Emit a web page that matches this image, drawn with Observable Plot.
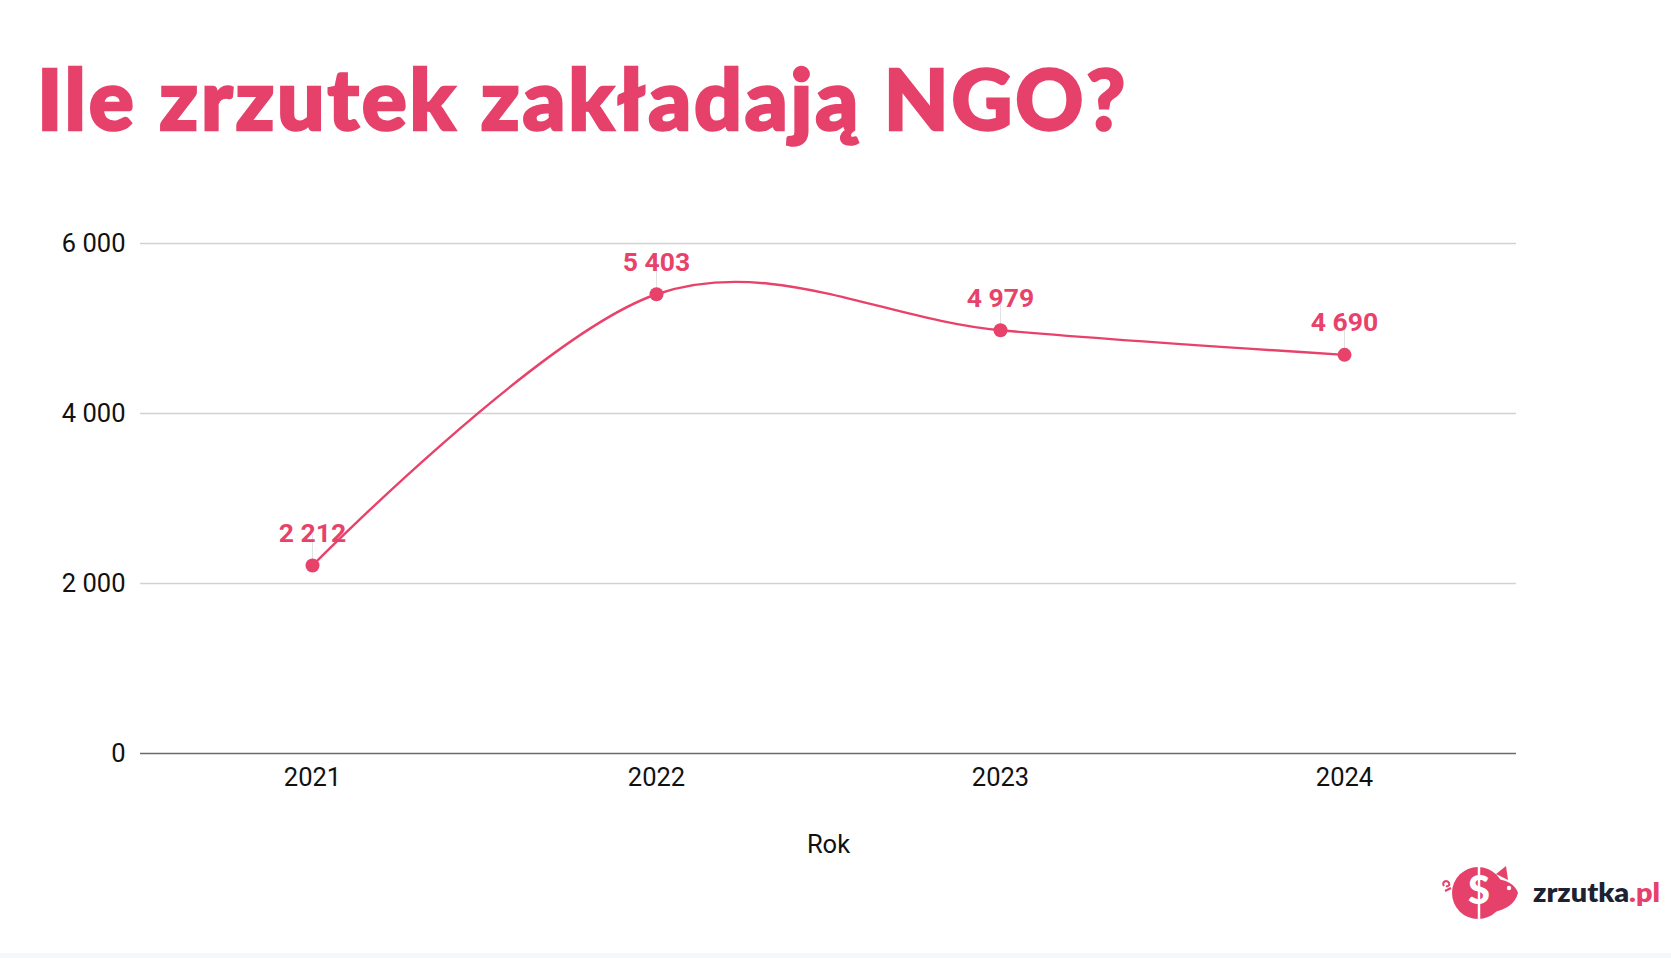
<!DOCTYPE html>
<html>
<head>
<meta charset="utf-8">
<script src="https://cdn.jsdelivr.net/npm/d3@7"></script>
<script src="https://cdn.jsdelivr.net/npm/@observablehq/plot@0.6"></script>
<style>
  html, body { margin: 0; padding: 0; background: #ffffff; }
  #wrap { position: relative; width: 1671px; height: 958px; overflow: hidden; background: #ffffff; }
  #title { position: absolute; left: 37px; top: 48px; font-family: Lato, "Noto Sans", sans-serif; font-weight: 900;
           font-size: 84px; line-height: 100px; color: #e6416a; white-space: nowrap; margin: 0;
           -webkit-text-stroke: 2.5px #e6416a; }
  #chart { position: absolute; left: 0; top: 170px; }
  #logo { position: absolute; left: 1436px; top: 860px; }
  #strip { position: absolute; left: 0; top: 953px; width: 1671px; height: 5px; background: #f6f7f9; }
</style>
</head>
<body>
<div id="wrap">
  <h1 id="title">Ile zrzutek zakładają NGO?</h1>
  <div id="chart"></div>
  <svg id="logo" width="230" height="70" viewBox="0 0 230 70">
    <path d="M8 26 c-3 -4 3 -7 5 -3 c1 2 -1 4 -3 3 M9 31 l6 -3" fill="none" stroke="#e6416a" stroke-width="2"/>
    <circle cx="42" cy="33" r="26" fill="#e6416a"/>
    <path d="M60 14 L70 6 L72 20 Z" fill="#e6416a"/>
    <path d="M55 18 Q78 20 82 33 Q78 48 58 52 Z" fill="#e6416a"/>
    <circle cx="73" cy="28" r="2.2" fill="#ffffff"/>
    <line x1="43" y1="7" x2="43" y2="60" stroke="#ffffff" stroke-width="2.5"/>
    <text x="43" y="44" text-anchor="middle" font-family="Lato, sans-serif" font-weight="900" font-size="40" fill="#ffffff">S</text>
    <text x="97" y="42" font-family="Lato, 'Noto Sans', sans-serif" font-weight="800" font-size="27" fill="#1d2230" textLength="127" lengthAdjust="spacingAndGlyphs">zrzutka<tspan fill="#e6416a">.pl</tspan></text>
  </svg>
  <div id="strip"></div>
</div>
<script>
// ---- data ----
const years = ["2021", "2022", "2023", "2024"];
const counts = [2212, 5403, 4979, 4690];
const yTicks = [0, 2000, 4000, 6000];
const xLabel = "Rok";

const data = years.map((y, i) => ({year: y, value: counts[i]}));
const fmt = v => d3.format(",")(v).replace(/,/g, " ");
const pink = "#e8426b";

const plot = Plot.plot({
  width: 1671,
  height: 788,
  marginLeft: 140,
  marginRight: 155,
  marginTop: 73,
  marginBottom: 205,
  style: {fontFamily: "Roboto, sans-serif", fontSize: "25.5px", color: "#111", background: "transparent"},
  x: {type: "point", domain: years, padding: 0.5, label: null},
  y: {domain: [0, 6000], label: null},
  marks: [
    Plot.gridY(yTicks.filter(d => d > 0), {stroke: "#d2d2d2", strokeOpacity: 1, strokeWidth: 1.3}),
    Plot.ruleY([0], {stroke: "#6a6a6a", strokeWidth: 1.5}),
    Plot.axisY({ticks: yTicks, tickSize: 0, tickPadding: 15, tickFormat: fmt, fontSize: 25.5, fill: "#111", label: null}),
    Plot.axisX({tickSize: 0, tickPadding: 14, fontSize: 25.5, fill: "#111", label: null}),
    Plot.text([xLabel], {frameAnchor: "bottom", dy: 91, lineAnchor: "middle", fontSize: 25.5, fill: "#111"}),
    Plot.ruleX(data, {x: "year", y1: "value", y2: d => d.value + 260, stroke: "#e2e2e2", strokeWidth: 1, insetBottom: 8}),
    Plot.line(data, {x: "year", y: "value", stroke: pink, strokeWidth: 2.4, curve: "cardinal"}),
    Plot.dot(data, {x: "year", y: "value", r: 7, fill: pink, stroke: "none"}),
    Plot.text(data, {x: "year", y: "value", text: d => fmt(d.value), dy: -32, lineAnchor: "middle",
      fontSize: 26.5, fontWeight: 700, fill: pink})
  ]
});
document.getElementById("chart").appendChild(plot);

// fit title width to reference (x 37 → 1128)
const t = document.getElementById("title");
const w = t.getBoundingClientRect().width;
const n = t.textContent.length;
t.style.letterSpacing = ((1091 - w) / n) + "px";
</script>
</body>
</html>
